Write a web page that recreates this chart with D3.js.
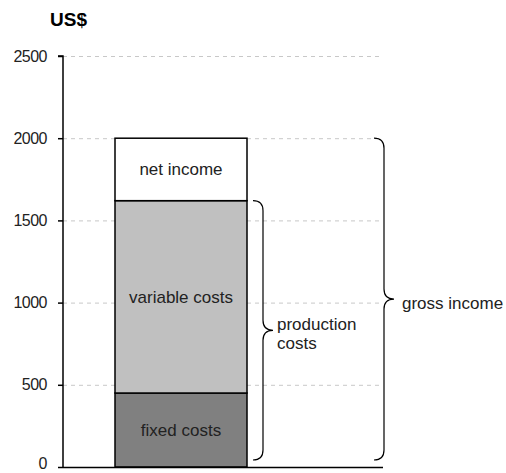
<!DOCTYPE html>
<html><head><meta charset="utf-8">
<script src="https://cdn.jsdelivr.net/npm/d3@7"></script>
<style>body{margin:0;background:#fff;} text{font-family:Arial,"Liberation Sans",sans-serif;}</style>
</head><body>
<svg id="c" width="506" height="473"></svg>
<script>
const segments = ["fixed costs", "variable costs", "net income"];
const segmentValues = [450, 1170, 380];
const segmentColors = ["#808080", "#c0c0c0", "#ffffff"];
const yTicks = [0, 500, 1000, 1500, 2000, 2500];
const braces = [
  {lines: ["production", "costs"], from: 0, to: 1620},
  {lines: ["gross income"], from: 0, to: 2000}
];

const svg = d3.select("#c");
const y = d3.scaleLinear().domain([0, 2500]).range([467, 56]);
const axisX = 63, gridEnd = 383;

// gridlines
svg.append("g").selectAll("line").data(yTicks.filter(d => d > 0)).join("line")
  .attr("x1", axisX).attr("x2", gridEnd)
  .attr("y1", d => y(d) + 0.5).attr("y2", d => y(d) + 0.5)
  .attr("stroke", "#c8c8c8").attr("stroke-width", 1).attr("stroke-dasharray", "4,4");

// stacked bar
let cum = 0;
const stack = segmentValues.map((v, i) => { const s = {name: segments[i], y0: cum, y1: cum + v, color: segmentColors[i]}; cum += v; return s; });
const barX = 115, barW = 132;
const g = svg.append("g");
g.selectAll("rect").data(stack).join("rect")
  .attr("x", barX).attr("width", barW)
  .attr("y", d => y(d.y1)).attr("height", d => y(d.y0) - y(d.y1))
  .attr("fill", d => d.color).attr("stroke", "#000").attr("stroke-width", 1.5);
g.selectAll("text").data(stack).join("text")
  .attr("x", barX + barW / 2).attr("y", d => (y(d.y0) + y(d.y1)) / 2 + 6)
  .attr("text-anchor", "middle").attr("font-size", 17).attr("fill", "#222")
  .text(d => d.name);

// y axis
const ya = d3.axisLeft(y).tickValues(yTicks).tickSize(5).tickPadding(11).tickFormat(d3.format("d"));
const ag = svg.append("g").attr("transform", `translate(${axisX},0)`).call(ya);
ag.select(".domain").attr("stroke", "#000").attr("stroke-width", 1.5).attr("d", `M-5,${y(2500)}H0V${y(0)}`);
ag.selectAll(".tick line").attr("stroke", "#000").attr("stroke-width", 1.5);
ag.selectAll(".tick text").attr("font-size", 16).attr("letter-spacing", -0.5).attr("font-family", "Arial, 'Liberation Sans', sans-serif").attr("fill", "#222");
ag.selectAll(".tick text").filter(d => d === 0).attr("dy", "0.1em");

// x axis line
svg.append("line").attr("x1", axisX).attr("x2", gridEnd).attr("y1", y(0) + 0.5).attr("y2", y(0) + 0.5)
  .attr("stroke", "#000").attr("stroke-width", 1.5);

// title
svg.append("text").attr("x", 50).attr("y", 26).attr("font-size", 19).attr("font-weight", "bold").text("US$");

// braces
const braceX = [253, 374];
function bracePath(x0, yTop, yBot, r) {
  const yMid = (yTop + yBot) / 2;
  const x1 = x0 + r, x2 = x1 + r;
  return `M${x0},${yTop} Q${x1},${yTop} ${x1},${yTop + r}` +
    ` L${x1},${yMid - r} Q${x1},${yMid} ${x2},${yMid}` +
    ` Q${x1},${yMid} ${x1},${yMid + r}` +
    ` L${x1},${yBot - r} Q${x1},${yBot} ${x0},${yBot}`;
}
braces.forEach((b, i) => {
  const yTop = y(b.to), yBot = y(b.from) - 7;
  const bx = braceX[i];
  svg.append("path").attr("d", bracePath(bx, yTop, yBot, 10))
    .attr("fill", "none").attr("stroke", "#000").attr("stroke-width", 1.2);
  const yMid = (yTop + yBot) / 2;
  const n = b.lines.length;
  svg.append("text").attr("font-size", 17).attr("fill", "#222")
    .selectAll("tspan").data(b.lines).join("tspan")
    .attr("x", bx + (i === 0 ? 24 : 28))
    .attr("y", (d, k) => yMid + 6 + (k - (n - 1) / 2) * 19 + (n > 1 ? 3 : 4))
    .text(d => d);
});
</script>
</body></html>
